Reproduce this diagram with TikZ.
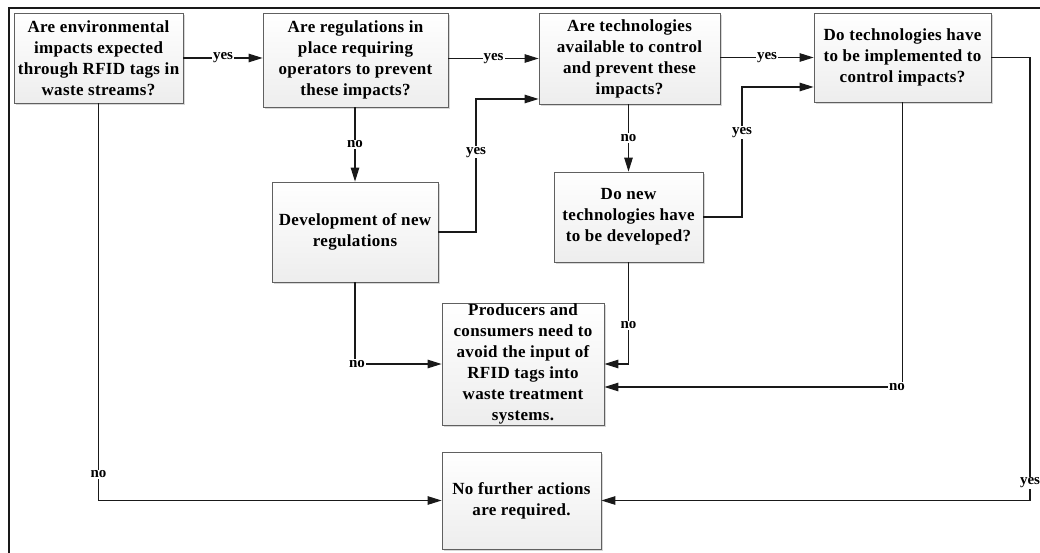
\documentclass[tikz,border=0pt]{standalone}
\usepackage{fontspec}
\setmainfont{Liberation Serif}
\usetikzlibrary{arrows.meta,shadows,calc}
\begin{document}
\begin{tikzpicture}[x=1pt,y=-1pt,
  box/.style={draw=gray!75!black, line width=0.8pt, top color=white, bottom color=gray!14,
    drop shadow={shadow xshift=2pt, shadow yshift=-2pt, fill=gray!45, opacity=0.7},
    align=center, inner xsep=2pt, inner ysep=0pt,
    font=\bfseries\fontsize{17}{21}\selectfont\addfontfeatures{LetterSpace=2}},
  arr/.style={line width=1.1pt, draw=black!90, -{Triangle[length=14pt,width=8.5pt]}},
  lbl/.style={fill=white, inner sep=1pt, font=\bfseries\fontsize{15}{15}\selectfont}]
\useasboundingbox (0,0) rectangle (1040,553);
\draw[line width=2pt, black!90] (9,553) -- (9,8) -- (1040,8);

\node[box, minimum width=169pt, minimum height=90pt] (A) at (98.5,58)
  {Are environmental\\impacts expected\\through RFID tags in\\waste streams?};
\node[box, minimum width=185pt, minimum height=94pt] (B) at (355.5,60)
  {Are regulations in\\place requiring\\operators to prevent\\these impacts?};
\node[box, minimum width=181pt, minimum height=91pt] (C) at (629.5,58.5)
  {Are technologies\\available to control\\and prevent these\\impacts?};
\node[box, minimum width=177pt, minimum height=89pt] (D) at (902.5,57.5)
  {Do technologies have\\to be implemented to\\control impacts?};
\node[box, minimum width=166pt, minimum height=100pt] (E) at (355,232)
  {Development of new\\regulations};
\node[box, minimum width=149pt, minimum height=90pt] (F) at (628.5,217)
  {Do new\\technologies have\\to be developed?};
\node[box, minimum width=162pt, minimum height=122pt] (G) at (523,364)
  {Producers and\\consumers need to\\avoid the input of\\RFID tags into\\waste treatment\\systems.};
\node[box, minimum width=159pt, minimum height=97pt] (H) at (521.5,500.5)
  {No further actions\\are required.};

\coordinate (c1) at (476,99);
\coordinate (c2) at (742,87);
\coordinate (c3) at (1030,57.5);

% A -> B
\draw[arr] (A.east) -- node[lbl]{yes} (A.east -| B.west);
% B -> C
\draw[arr] (B.east |- C.east) -- node[lbl]{yes} (C.west);
% C -> D
\draw[arr] (C.east |- D.east) -- node[lbl]{yes} (D.west);
% B -> E
\draw[arr] (B.south -| E.north) -- node[lbl]{no} (E.north);
% E -> C
\draw[arr] (E.east) -- (E.east -| c1) -- node[lbl, pos=0.6]{yes} (c1) -- (c1 -| C.west);
% C -> F
\draw[arr] (C.south -| F.north) -- node[lbl]{no} (F.north);
% F -> D
\draw[arr] (F.east) -- (F.east -| c2) -- node[lbl, pos=0.65]{yes} (c2) -- (c2 -| D.west);
% F -> G
\draw[arr] (F.south) -- node[lbl, pos=0.62]{no} (F.south |- G.east) -- (G.east);
% D -> G
\draw[arr] (D.south) -- (D.south |- 0,387) -- ($(G.east)+(0,23)$);
\node[lbl] (nDG) at (897,387) {no};
% E -> G
\draw[arr] (E.south) -- (E.south |- G.west) -- (G.west);
\node[lbl] (nEG) at (357,364) {no};
% A -> H
\draw[arr] (A.south) -- node[lbl, pos=0.934]{no} (A.south |- H.west) -- (H.west);
% D -> H
\draw[arr] (D.east) -- (c3) -- node[lbl, pos=0.96]{yes} (c3 |- H.east) -- (H.east);
\end{tikzpicture}
\end{document}
